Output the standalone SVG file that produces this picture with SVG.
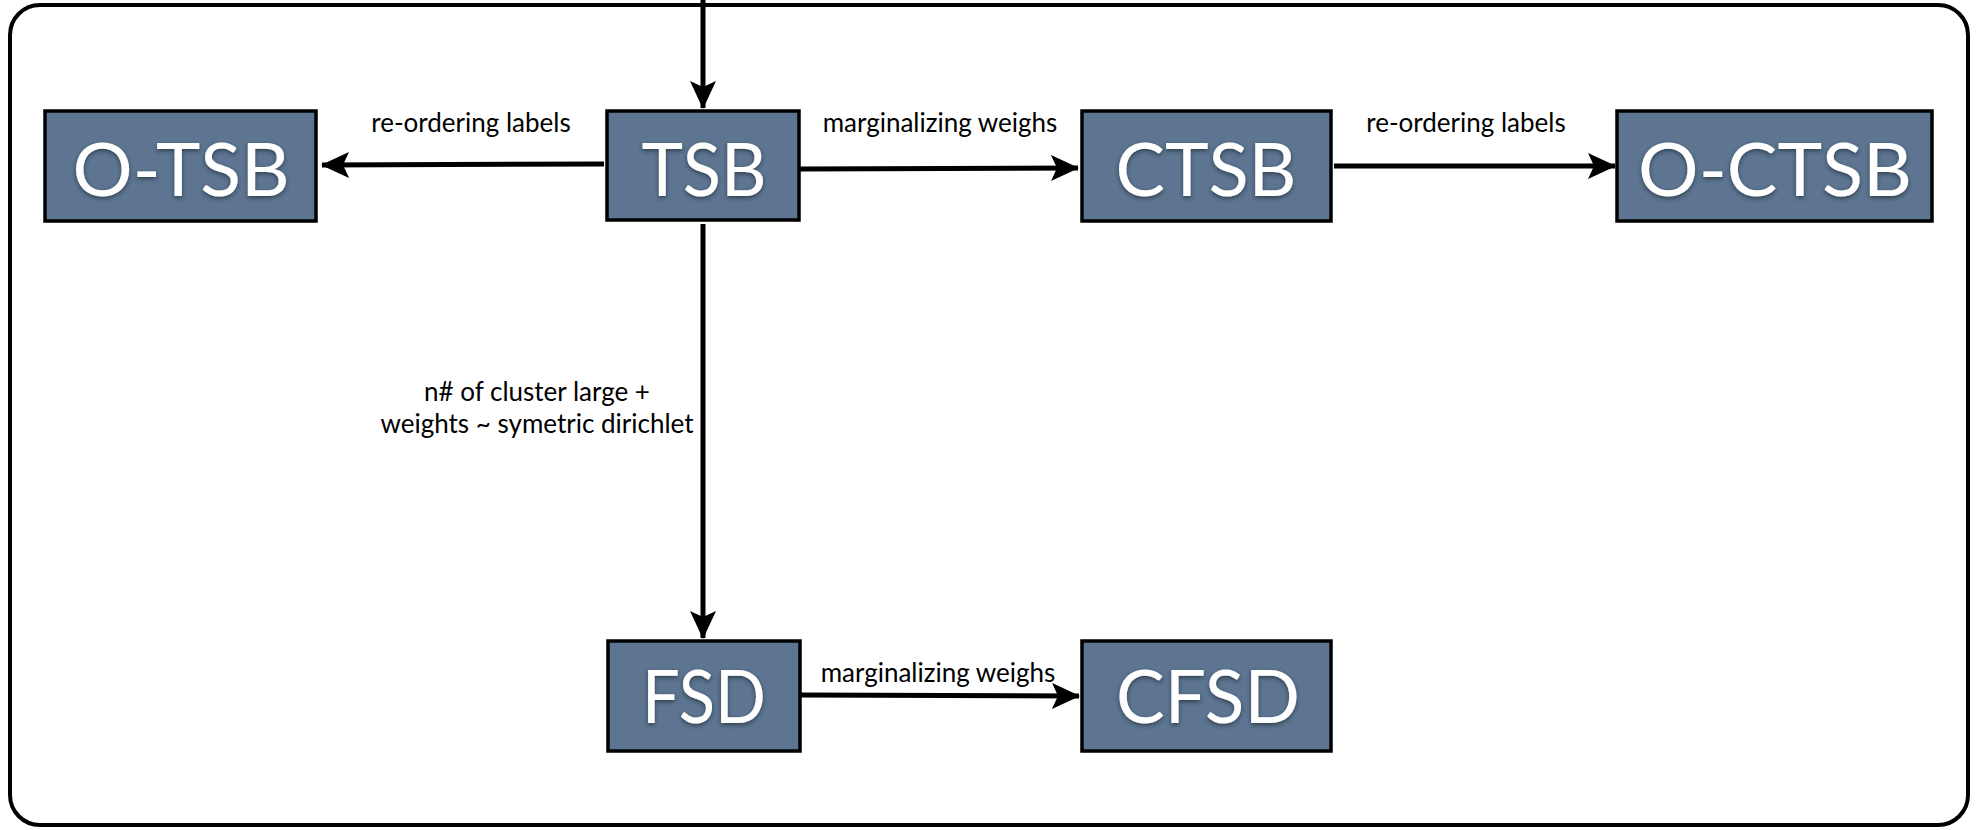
<svg xmlns="http://www.w3.org/2000/svg" width="1979" height="830" viewBox="0 0 1979 830">
<style>
.node rect{fill:#5d7591;stroke:#000;stroke-width:3.5}
.node text{font-family:"Lato","Liberation Sans",sans-serif;font-weight:400;font-size:74px;fill:#fff;text-anchor:middle;filter:url(#sh)}
.lbl{font-family:"Lato","Liberation Sans",sans-serif;font-size:26px;fill:#000;text-anchor:middle}
.edge{stroke:#000;stroke-width:5;fill:none;marker-end:url(#ah)}
</style>
<defs>
<marker id="ah" markerWidth="30" markerHeight="28" refX="27" refY="13" orient="auto" markerUnits="userSpaceOnUse">
<path d="M0,0 L28,13 L0,26 L6,13 Z" fill="#000"/>
</marker>
<filter id="sh" x="-20%" y="-20%" width="140%" height="140%">
<feDropShadow dx="0" dy="2" stdDeviation="2" flood-color="#1a2533" flood-opacity="0.7"/>
</filter>
</defs>
<rect x="10" y="5" width="1958" height="820" rx="30" ry="30" fill="#fff" stroke="#000" stroke-width="4"/>
<g id="connectors">
<line class="edge" x1="703" y1="0" x2="703" y2="108"/>
<line class="edge" x1="604" y1="164" x2="322" y2="165"/>
<line class="edge" x1="800" y1="169" x2="1078" y2="168"/>
<line class="edge" x1="1334" y1="166" x2="1615" y2="166"/>
<line class="edge" x1="703" y1="224" x2="703" y2="638"/>
<line class="edge" x1="801" y1="695" x2="1079" y2="696"/>
<text class="lbl" x="471" y="132">re-ordering labels</text>
<text class="lbl" x="940" y="132">marginalizing weighs</text>
<text class="lbl" x="1466" y="132">re-ordering labels</text>
<text class="lbl" x="537" y="401">n# of cluster large +</text>
<text class="lbl" x="537" y="433">weights ~ symetric dirichlet</text>
<text class="lbl" x="938" y="682">marginalizing weighs</text>
</g>
<g id="O-TSB" class="node"><rect x="45" y="111" width="271" height="110"/><text x="181" y="196" textLength="217" lengthAdjust="spacingAndGlyphs">O-TSB</text></g>
<g id="TSB" class="node"><rect x="607" y="111" width="192" height="109"/><text x="704" y="196" textLength="125" lengthAdjust="spacingAndGlyphs">TSB</text></g>
<g id="CTSB" class="node"><rect x="1082" y="111" width="249" height="110"/><text x="1206" y="196" textLength="181" lengthAdjust="spacingAndGlyphs">CTSB</text></g>
<g id="O-CTSB" class="node"><rect x="1617" y="111" width="315" height="110"/><text x="1775" y="196" textLength="274" lengthAdjust="spacingAndGlyphs">O-CTSB</text></g>
<g id="FSD" class="node"><rect x="608" y="641" width="192" height="110"/><text x="704" y="723" textLength="124" lengthAdjust="spacingAndGlyphs">FSD</text></g>
<g id="CFSD" class="node"><rect x="1082" y="641" width="249" height="110"/><text x="1208" y="723" textLength="184" lengthAdjust="spacingAndGlyphs">CFSD</text></g>
</svg>
